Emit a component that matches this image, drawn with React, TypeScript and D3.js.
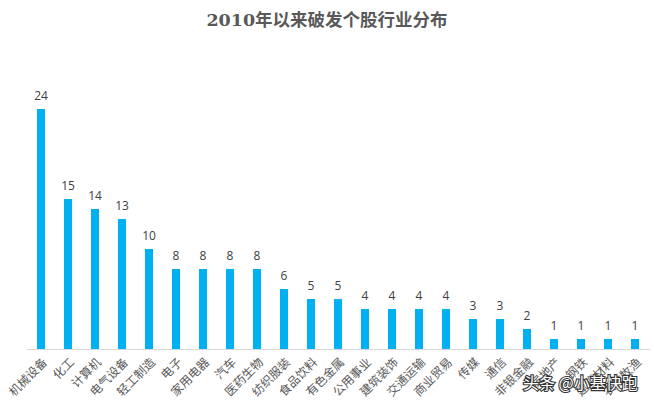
import React from "react";
import * as d3 from "d3";

const categories = [
  "机械设备", "化工", "计算机", "电气设备", "轻工制造", "电子", "家用电器", "汽车",
  "医药生物", "纺织服装", "食品饮料", "有色金属", "公用事业", "建筑装饰", "交通运输",
  "商业贸易", "传媒", "通信", "非银金融", "房地产", "钢铁", "建筑材料", "农林牧渔",
];
const values = [24, 15, 14, 13, 10, 8, 8, 8, 8, 6, 5, 5, 4, 4, 4, 4, 3, 3, 2, 1, 1, 1, 1];
const title = "2010年以来破发个股行业分布";
const watermark = "头条 @小基快跑";

const W = 654;
const H = 404;

export default function App() {
  const x = d3.scaleBand<string>().domain(categories).range([27.5, 648.5]).paddingInner(0.7).paddingOuter(0.35);
  const y = d3.scaleLinear().domain([0, 24]).range([349, 109]);
  const bw = 8;
  return (
    <svg width={W} height={H} style={{ position: "absolute", left: 0, top: 0, display: "block", background: "#fff" }}>
      <text x={327} y={26} textAnchor="middle" fontSize={17.5} fontWeight="bold" fill="#595959"
        fontFamily="'DejaVu Serif', 'Noto Sans CJK SC', serif">{title}</text>
      <line x1={27} x2={650} y1={349.5} y2={349.5} stroke="#D9D9D9" strokeWidth={1} />
      {categories.map((c, i) => {
        const cx = (x(c) as number) + x.bandwidth() / 2;
        const v = values[i];
        return (
          <g key={c}>
            <rect x={cx - bw / 2} y={y(v)} width={bw} height={y(0) - y(v)} fill="#00B0F0" />
            <text x={cx} y={y(v) - 9} textAnchor="middle" fontSize={12} fill="#404040"
              fontFamily="'Open Sans', 'Liberation Sans', sans-serif">{v}</text>
            <text transform={`translate(${cx + 4},${360}) rotate(-45)`} textAnchor="end" dy="0.35em"
              fontSize={12} fill="#595959" fontFamily="'Noto Sans CJK SC', sans-serif">{c}</text>
          </g>
        );
      })}
      <text x={523} y={389} fontSize={16} fill="#ffffff" stroke="#333" strokeWidth={2.2}
        paintOrder="stroke" fontFamily="'Noto Sans CJK SC', sans-serif">{watermark}</text>
    </svg>
  );
}
